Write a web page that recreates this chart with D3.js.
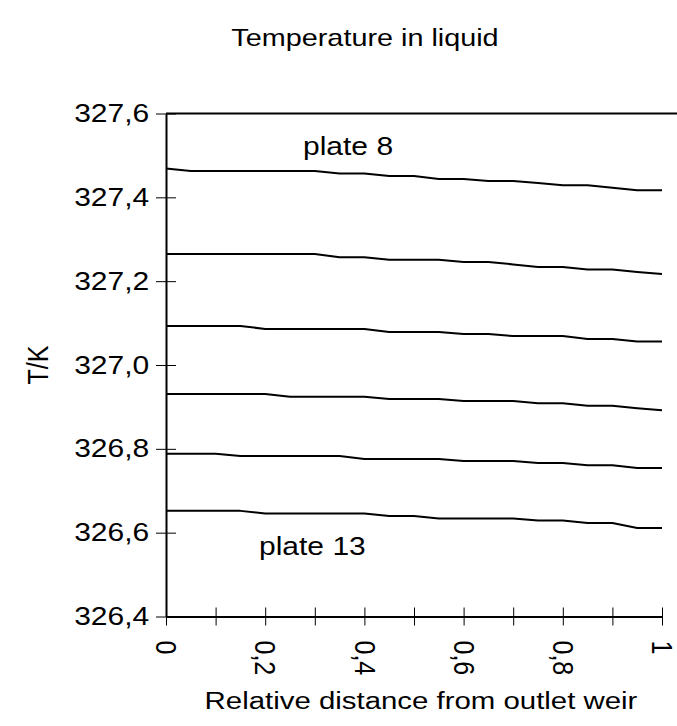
<!DOCTYPE html>
<html>
<head>
<meta charset="utf-8">
<script src="https://cdn.jsdelivr.net/npm/d3@7"></script>
<style>
  html, body { margin: 0; padding: 0; background: #fff; }
  svg { display: block; font-family: "Liberation Sans", Arial, sans-serif; }
</style>
</head>
<body>
<svg id="chart" width="677" height="726"></svg>
<script>
// ---- data ----
const positions = [0, 0.05, 0.1, 0.15, 0.2, 0.25, 0.3, 0.35, 0.4, 0.45, 0.5,
                   0.55, 0.6, 0.65, 0.7, 0.75, 0.8, 0.85, 0.9, 0.95, 1];
const plate8  = [327.469, 327.463, 327.463, 327.463, 327.463, 327.463, 327.463, 327.457, 327.457, 327.451, 327.451,
                 327.444, 327.444, 327.439, 327.439, 327.434, 327.429, 327.429, 327.423, 327.417, 327.417];
const plate9  = [327.265, 327.265, 327.265, 327.265, 327.265, 327.265, 327.265, 327.257, 327.257, 327.251, 327.251,
                 327.251, 327.246, 327.246, 327.240, 327.234, 327.234, 327.228, 327.228, 327.222, 327.217];
const plate10 = [327.093, 327.093, 327.093, 327.093, 327.086, 327.086, 327.086, 327.086, 327.086, 327.079, 327.079,
                 327.079, 327.074, 327.074, 327.069, 327.069, 327.069, 327.062, 327.062, 327.056, 327.056];
const plate11 = [326.931, 326.931, 326.931, 326.931, 326.931, 326.924, 326.924, 326.924, 326.924, 326.919, 326.919,
                 326.919, 326.914, 326.914, 326.914, 326.909, 326.909, 326.903, 326.903, 326.897, 326.892];
const plate12 = [326.788, 326.788, 326.788, 326.783, 326.783, 326.783, 326.783, 326.783, 326.776, 326.776, 326.776,
                 326.776, 326.771, 326.771, 326.771, 326.766, 326.766, 326.761, 326.761, 326.754, 326.754];
const plate13 = [326.652, 326.652, 326.652, 326.652, 326.646, 326.646, 326.646, 326.646, 326.646, 326.640, 326.640,
                 326.634, 326.634, 326.634, 326.634, 326.629, 326.629, 326.623, 326.623, 326.611, 326.611];
const seriesList = [plate8, plate9, plate10, plate11, plate12, plate13];

const yTicks = [326.4, 326.6, 326.8, 327.0, 327.2, 327.4, 327.6];
const xTicks = [0, 0.1, 0.2, 0.3, 0.4, 0.5, 0.6, 0.7, 0.8, 0.9, 1];
const xTickLabels = ["0", "", "0,2", "", "0,4", "", "0,6", "", "0,8", "", "1"];

const titleText = "Temperature in liquid";
const xTitle = "Relative distance from outlet weir";
const yTitle = "T/K";
const topLabel = "plate 8";
const bottomLabel = "plate 13";

// ---- layout ----
const W = 677, H = 726;
const SX = 1.2; // horizontal stretch of text in the reference
const svg = d3.select("#chart");

const x = d3.scaleLinear().domain([0, 1]).range([166, 662]);
const y = d3.scaleLinear().domain([326.4, 327.6]).range([616.5, 113.5]);

// top frame line
svg.append("line")
  .attr("x1", x(0)).attr("x2", W)
  .attr("y1", y(327.6)).attr("y2", y(327.6))
  .attr("stroke", "#000").attr("stroke-width", 2);

// y axis
const fmt = d3.format(".1f");
const yAxis = svg.append("g")
  .attr("transform", `translate(${x(0)},0)`)
  .call(d3.axisLeft(y).tickValues(yTicks).tickSize(10).tickSizeOuter(0).tickPadding(4)
        .tickFormat(d => fmt(d).replace(".", ",")));
yAxis.select(".domain").attr("stroke", "#000").attr("stroke-width", 2);
yAxis.selectAll(".tick line").attr("x1", 10).attr("stroke", "#000").attr("stroke-width", 1);
yAxis.selectAll(".tick text")
  .attr("font-size", 25).attr("fill", "#000")
  .attr("font-family", "Liberation Sans, Arial, sans-serif")
  .attr("transform", `scale(${SX},1)`);

// x axis
const xAxis = svg.append("g")
  .attr("transform", `translate(0,${y(326.4)})`)
  .call(d3.axisBottom(x).tickValues(xTicks).tickSize(9).tickSizeOuter(0)
        .tickFormat((d, i) => xTickLabels[i]));
xAxis.select(".domain").attr("stroke", "#000").attr("stroke-width", 2);
xAxis.selectAll(".tick line").attr("y1", -9).attr("stroke", "#000").attr("stroke-width", 1);
xAxis.selectAll(".tick text")
  .attr("font-size", 25).attr("fill", "#000")
  .attr("font-family", "Liberation Sans, Arial, sans-serif")
  .attr("y", 0).attr("dy", null)
  .attr("text-anchor", "start")
  .attr("dominant-baseline", "central")
  .attr("transform", `translate(0,24) scale(${SX},1) rotate(90)`);

// lines
const line = d3.line().x((d, i) => x(positions[i])).y(d => y(d));
svg.append("g").selectAll("path").data(seriesList).join("path")
  .attr("d", d => line(d))
  .attr("fill", "none").attr("stroke", "#000").attr("stroke-width", 2)
  .attr("stroke-linejoin", "round");

// texts
function hText(tx, ty, str, size, anchor) {
  svg.append("text")
    .attr("transform", `translate(${tx},${ty}) scale(${SX},1)`)
    .attr("text-anchor", anchor)
    .attr("font-size", size).attr("fill", "#000")
    .text(str);
}
hText(365, 46, titleText, 24, "middle");
hText(303, 155, topLabel, 25, "start");
hText(259, 555, bottomLabel, 25, "start");
hText(421, 709, xTitle, 24.5, "middle");

svg.append("text")
  .attr("transform", `translate(48,365) scale(${SX},1) rotate(-90)`)
  .attr("text-anchor", "middle")
  .attr("font-size", 25).attr("fill", "#000")
  .text(yTitle);
</script>
</body>
</html>
